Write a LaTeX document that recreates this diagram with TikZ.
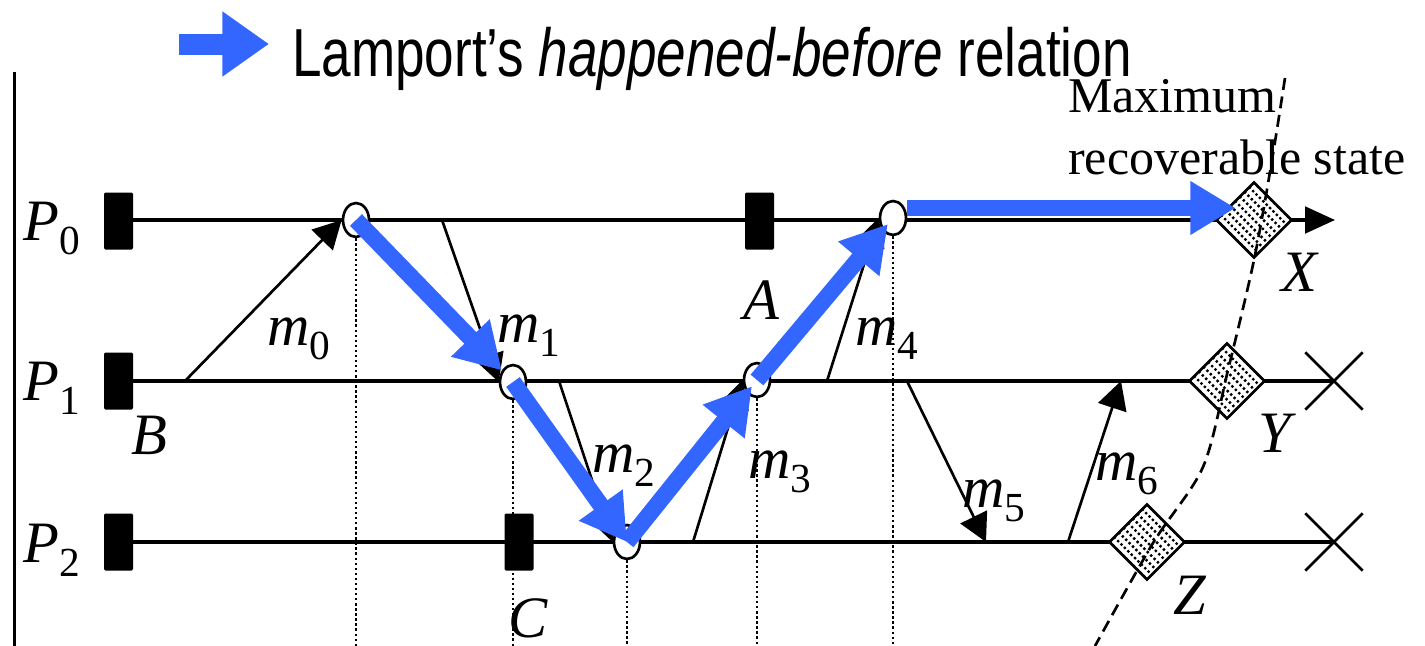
\documentclass[tikz,border=0pt]{standalone}
\usepackage{fontspec}
\setmainfont{Liberation Serif}
\newfontfamily\legendfont[FakeStretch=0.78]{Liberation Sans}
\usetikzlibrary{arrows.meta}
\usetikzlibrary{shapes.geometric}
\usetikzlibrary{shapes.misc}
\usetikzlibrary{calc}
\definecolor{hbblue}{RGB}{51,102,255}
\newcommand{\lbsub}[2]{\textit{#1}\raisebox{-0.24em}{\fontsize{31}{31}\selectfont #2}}

\begin{document}
\begin{tikzpicture}[x=0.75pt,y=0.75pt,yscale=-1,xscale=1,
  proc/.style={line width=2.3pt},
  msg/.style={line width=2pt,-{Triangle[length=21pt,width=22pt]}},
  vguide/.style={line width=2pt,dash pattern=on 1.8pt off 2pt},
  chk/.style={rectangle,fill=black,minimum width=21.75pt,minimum height=42.75pt,inner sep=0pt,rounded corners=1pt},
  evt/.style={ellipse,draw,fill=white,line width=2pt,minimum width=19.5pt,minimum height=25.5pt,inner sep=0pt},
  recov/.style={diamond,draw,fill=white,line width=2pt,minimum width=57pt,minimum height=57pt,inner sep=0pt,
    path picture={\foreach \k in {-6,...,6}{\draw[line width=1.8pt,dash pattern=on 1.8pt off 1.8pt] ($(path picture bounding box.center)+(\k*3.5pt,\k*3.5pt)+(-22pt,22pt)$) -- ++(44pt,-44pt);}}},
  crash/.style={cross out,draw,line width=2pt,minimum width=41pt,minimum height=41pt,inner sep=0pt},
  hb/.style={draw=hbblue,line width=12.5pt,-{Triangle[length=34pt,width=38pt]}},
  cut/.style={line width=2pt,dash pattern=on 9pt off 5pt},
  lbl/.style={inner sep=0pt,font=\fontsize{44}{50}\selectfont}]
\useasboundingbox (0,0) rectangle (1425,646);

%Legend
\coordinate (lgdtail) at (179,44);
\coordinate (lgdtip) at (269,44);
\draw [hbblue,line width=15.75pt,-{Triangle[length=35pt,width=46.5pt]}] (lgdtail) -- (lgdtip);
% Text Node
\node (lgd) [anchor=base west,inner sep=0pt] at (292,76) {\legendfont\fontsize{51}{60}\selectfont Lamport’s \textit{happened-before} relation};

%Straight Lines
\draw [line width=2.5pt] (14.5,72) -- (14.5,646);
\coordinate (bot) at (0,646);

%Checkpoints
\node (ck0) [chk] at (118.5,221) {};
\node (ck1) [chk] at (118.5,381) {};
\node (ck2) [chk] at (118.5,542) {};
\node (ckA) [chk] at (759.5,221) {};
\node (ckC) [chk] at (519,542) {};

%Process lines
\coordinate (p0end) at (1335,220);
\node (x1) [crash] at (1334,381) {};
\node (x2) [crash] at (1334,542) {};
\draw [proc,-{Triangle[length=22.5pt,width=20pt]}] (ck0.east |- p0end) -- (p0end);
\draw [proc] (ck1.east) -- (x1.center);
\draw [proc] (ck2.east) -- (x2.center);

%Receive events
\node (e0) [evt] at (356,220) {};
\node (e1) [evt] at (513,382) {};
\node (e2) [evt] at (627,542) {};
\node (e3) [evt] at (757,380) {};
\node (e4) [evt] at (893,218) {};

%Dotted lines
\draw [vguide] (e0.south) -- (e0 |- bot);
\draw [vguide] (e1.south) -- (e1 |- bot);
\draw [vguide] (e2.south) -- (e2 |- bot);
\draw [vguide] (e3.south) -- (e3 |- bot);
\draw [vguide] (e4.south) -- (e4 |- bot);

%Messages
\coordinate (m0s) at (185,381);
\coordinate (m1s) at (442,220);
\coordinate (m2s) at (559,381);
\coordinate (m3s) at (693,542);
\coordinate (m4s) at (827,381);
\coordinate (m5s) at (907,381);
\coordinate (m5r) at (986,542);
\coordinate (m6s) at (1068,542);
\coordinate (m6r) at (1121,381);
\draw [msg] (m0s) -- (e0.west);
\draw [msg] (m1s) -- (e1.west);
\draw [msg] (m2s) -- (e2.west);
\draw [msg] (m3s) -- (e3.west);
\draw [msg] (m4s) -- (e4.west);
\draw [msg] (m5s) -- (m5r);
\draw [msg] (m6s) -- (m6r);

%Recoverable states
\node (dX) [recov] at (1254,220) {};
\node (dY) [recov] at (1227,381) {};
\node (dZ) [recov] at (1147,542) {};
\draw [cut] plot [smooth] coordinates {(1285,78) (1272,160) (1254,260) (1228,370) (1203,467) (1153,543) (1095,646)};

%Happened-before arrows
\draw [hb,shorten >=12] (e0.center) -- (e1.center);
\draw [hb] (e1.center) -- (e2.center);
\draw [hb,shorten >=6] (e2.center) -- (e3.center);
\draw [hb,shorten >=6] (e3.center) -- (e4.center);
\draw [hb] ($(e4.east)+(0,-10)$) -- ($(dX.west)+(21,-12)$);

% Text Node
\node (lp0) [lbl,anchor=base west] at (23,240) {\lbsub{P}{0}};
\node (lp1) [lbl,anchor=base west] at (23,400) {\lbsub{P}{1}};
\node (lp2) [lbl,anchor=base west] at (23,562) {\lbsub{P}{2}};
% Text Node
\node (lm0) [lbl,anchor=base west] at (267,345) {\lbsub{m}{0}};
\node (lm1) [lbl,anchor=base west] at (497,342) {\lbsub{m}{1}};
\node (lm2) [lbl,anchor=base west] at (592,472) {\lbsub{m}{2}};
\node (lm3) [lbl,anchor=base west] at (748,478) {\lbsub{m}{3}};
\node (lm4) [lbl,anchor=base west] at (855,345) {\lbsub{m}{4}};
\node (lm5) [lbl,anchor=base west] at (962,507) {\lbsub{m}{5}};
\node (lm6) [lbl,anchor=base west] at (1095,480) {\lbsub{m}{6}};
% Text Node
\node (lA) [lbl] at (762,300) {\textit{A}};
\node (lB) [lbl] at (149,435) {\textit{B}};
\node (lC) [lbl] at (528,618) {\textit{C}};
\node (lX) [lbl] at (1300,272) {\textit{X}};
\node (lY) [lbl] at (1277,433) {\textit{Y}};
\node (lZ) [lbl] at (1190,595) {\textit{Z}};
% Text Node
\node (lmax) [anchor=north west,inner sep=0pt,align=left,font=\fontsize{37.5}{46.5}\selectfont] at (1068,79) {Maximum\\recoverable state};

\end{tikzpicture}
\end{document}
